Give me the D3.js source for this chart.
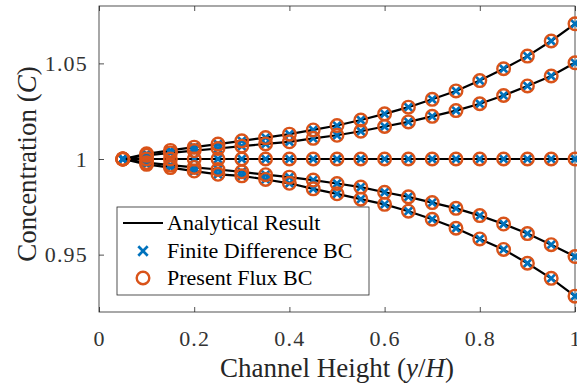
<!DOCTYPE html>
<html>
<head>
<meta charset="utf-8">
<script src="https://cdn.jsdelivr.net/npm/d3@7"></script>
<style>
	html, body { margin: 0; padding: 0; background: #fff; }
	svg { display: block; }
</style>
</head>
<body>
<svg id="chart"></svg>
<script>
const heights = [0.05, 0.1, 0.15, 0.2, 0.25, 0.3, 0.35, 0.4, 0.45, 0.5, 0.55, 0.6, 0.65, 0.7, 0.75, 0.8, 0.85, 0.9, 0.95, 1.0]
const caseA = [1.0, 1.0027, 1.0045, 1.0062, 1.0078, 1.0095, 1.0112, 1.013, 1.0152, 1.0175, 1.0204, 1.0236, 1.0271, 1.0312, 1.0356, 1.041, 1.0472, 1.0538, 1.0617, 1.0707]
const caseB = [1.0, 1.0019, 1.0032, 1.0044, 1.0055, 1.0067, 1.0079, 1.009, 1.0108, 1.0124, 1.0145, 1.017, 1.0194, 1.0223, 1.0253, 1.0289, 1.0332, 1.0382, 1.0434, 1.0503]
const caseC = [1, 1, 1, 1, 1, 1, 1, 1, 1, 1, 1, 1, 1, 1, 1, 1, 1, 1, 1, 1]
const caseD = [1.0, 0.9981, 0.9968, 0.9956, 0.9945, 0.9933, 0.9918, 0.9905, 0.989, 0.9872, 0.9853, 0.9826, 0.9802, 0.9772, 0.9742, 0.9704, 0.966, 0.961, 0.9552, 0.949]
const caseE = [1.0, 0.9972, 0.9955, 0.9937, 0.992, 0.9912, 0.9893, 0.9873, 0.9844, 0.9818, 0.979, 0.9763, 0.9727, 0.9685, 0.9638, 0.9582, 0.9527, 0.9455, 0.9376, 0.9283]
const xTicks = [0, 0.2, 0.4, 0.6, 0.8, 1]
const yTicks = [0.95, 1, 1.05]
const legendLabels = ["Analytical Result", "Finite Difference BC", "Present Flux BC"]

const width = 577
const height = 387
const margin = {top: 6, right: 2, bottom: 75, left: 99}
const serif = "'Liberation Serif', 'Times New Roman', serif"
const axisColor = "#262626"
const blue = "#0072BD"
const orange = "#D95319"

const svg = d3.select("#chart")
	.attr("width", width)
	.attr("height", height)
	.attr("font-family", serif)

const x = d3.scaleLinear().domain([0, 1]).range([margin.left, width - margin.right])
const y = d3.scaleLinear().domain([0.92, 1.08]).range([height - margin.bottom, margin.top])

const series = [caseA, caseB, caseC, caseD, caseE].map(vals => heights.map((h, i) => ({h: h, c: vals[i]})))

// axes (ticks inward, box all round)
const fmt = d => String(d)
const tickStyle = g => {
	g.attr("font-family", serif)
	g.selectAll(".domain").remove()
	g.selectAll(".tick line").attr("stroke", axisColor).attr("stroke-width", 0.8)
	g.selectAll(".tick text")
		.attr("fill", "#333")
		.attr("font-size", 22)
		.attr("font-family", serif)
		.style("letter-spacing", "1.2px")
}
svg.append("g")
	.attr("transform", "translate(0," + y.range()[0] + ")")
	.call(d3.axisBottom(x).tickValues(xTicks).tickFormat(fmt).tickSizeInner(-5).tickSizeOuter(0).tickPadding(18))
	.call(tickStyle)
svg.append("g")
	.attr("transform", "translate(0," + y.range()[1] + ")")
	.call(d3.axisTop(x).tickValues(xTicks).tickFormat("").tickSizeInner(-5).tickSizeOuter(0))
	.call(tickStyle)
svg.append("g")
	.attr("transform", "translate(" + x.range()[0] + ",0)")
	.call(d3.axisLeft(y).tickValues(yTicks).tickFormat(fmt).tickSizeInner(-5).tickSizeOuter(0).tickPadding(11))
	.call(tickStyle)
svg.append("g")
	.attr("transform", "translate(" + x.range()[1] + ",0)")
	.call(d3.axisRight(y).tickValues(yTicks).tickFormat("").tickSizeInner(-5).tickSizeOuter(0))
	.call(tickStyle)

svg.append("rect")
	.attr("x", x.range()[0])
	.attr("y", y.range()[1])
	.attr("width", x.range()[1] - x.range()[0])
	.attr("height", y.range()[0] - y.range()[1])
	.attr("fill", "none")
	.attr("stroke", axisColor)
	.attr("stroke-width", 0.8)

// analytical lines
const line = d3.line().x(d => x(d.h)).y(d => y(d.c))
svg.append("g").selectAll("path")
	.data(series)
	.join("path")
	.attr("d", line)
	.attr("fill", "none")
	.attr("stroke", "#000")
	.attr("stroke-width", 2.2)

const crossPath = s => "M" + (-s) + "," + (-s) + "L" + s + "," + s + "M" + (-s) + "," + s + "L" + s + "," + (-s)

// finite difference markers
svg.append("g").selectAll("path")
	.data(series.flat())
	.join("path")
	.attr("transform", d => "translate(" + x(d.h) + "," + y(d.c) + ")")
	.attr("d", crossPath(4.7))
	.attr("stroke", blue)
	.attr("stroke-width", 2.7)
	.attr("fill", "none")

// present flux markers
svg.append("g").selectAll("circle")
	.data(series.flat())
	.join("circle")
	.attr("cx", d => x(d.h))
	.attr("cy", d => y(d.c))
	.attr("r", 6.3)
	.attr("fill", "none")
	.attr("stroke", orange)
	.attr("stroke-width", 2.4)

// axis titles
const xt = svg.append("text")
	.attr("x", (x.range()[0] + x.range()[1]) / 2)
	.attr("y", 377)
	.attr("text-anchor", "middle")
	.attr("font-size", 27)
	.attr("fill", "#262626")
xt.append("tspan").text("Channel Height (")
xt.append("tspan").attr("font-style", "italic").text("y")
xt.append("tspan").text("/")
xt.append("tspan").attr("font-style", "italic").text("H")
xt.append("tspan").text(")")

const yt = svg.append("text")
	.attr("transform", "translate(36,164) rotate(-90)")
	.attr("text-anchor", "middle")
	.attr("font-size", 27)
	.attr("fill", "#262626")
yt.append("tspan").text("Concentration (")
yt.append("tspan").attr("font-style", "italic").text("C")
yt.append("tspan").text(")")

// legend
const legend = svg.append("g").attr("transform", "translate(117,207)")
legend.append("rect")
	.attr("width", 252)
	.attr("height", 88)
	.attr("fill", "#fff")
	.attr("stroke", axisColor)
	.attr("stroke-width", 0.8)
const rowY = [16, 44, 71]
legend.append("line")
	.attr("x1", 6).attr("x2", 46)
	.attr("y1", rowY[0]).attr("y2", rowY[0])
	.attr("stroke", "#000").attr("stroke-width", 2.2)
legend.append("path")
	.attr("transform", "translate(26," + rowY[1] + ")")
	.attr("d", crossPath(4.7))
	.attr("stroke", blue).attr("stroke-width", 2.7).attr("fill", "none")
legend.append("circle")
	.attr("cx", 26).attr("cy", rowY[2]).attr("r", 6.3)
	.attr("fill", "none").attr("stroke", orange).attr("stroke-width", 2.4)
legend.selectAll("text.lbl")
	.data(legendLabels)
	.join("text")
	.attr("class", "lbl")
	.attr("x", 50)
	.attr("y", (d, i) => rowY[i] + 7)
	.attr("font-size", 22)
	.attr("fill", "#000")
	.text(d => d)
</script>
</body>
</html>
